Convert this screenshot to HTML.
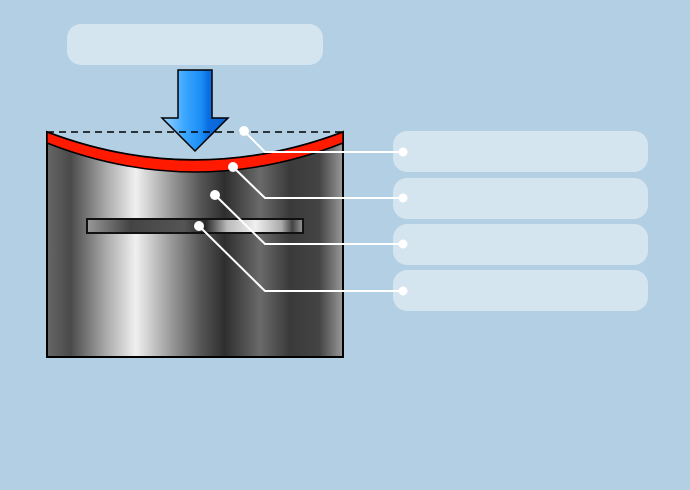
<!DOCTYPE html>
<html><head><style>
html,body{margin:0;padding:0;width:690px;height:490px;overflow:hidden;background:#b3cfe3;}
</style></head><body>
<svg width="690" height="490" viewBox="0 0 690 490" xmlns="http://www.w3.org/2000/svg">
<defs>
<linearGradient id="body" x1="47" x2="343" y1="0" y2="0" gradientUnits="userSpaceOnUse">
<stop offset="0" stop-color="#666"/>
<stop offset="0.08" stop-color="#4a4a4a"/>
<stop offset="0.2" stop-color="#aaa"/>
<stop offset="0.3" stop-color="#f0f0f0"/>
<stop offset="0.42" stop-color="#999"/>
<stop offset="0.52" stop-color="#555"/>
<stop offset="0.6" stop-color="#2e2e2e"/>
<stop offset="0.72" stop-color="#6a6a6a"/>
<stop offset="0.82" stop-color="#3a3a3a"/>
<stop offset="0.92" stop-color="#444"/>
<stop offset="1" stop-color="#999"/>
</linearGradient>
<linearGradient id="bar" x1="87" x2="303" y1="0" y2="0" gradientUnits="userSpaceOnUse">
<stop offset="0" stop-color="#999"/>
<stop offset="0.2" stop-color="#444"/>
<stop offset="0.45" stop-color="#555"/>
<stop offset="0.55" stop-color="#2a2a2a"/>
<stop offset="0.65" stop-color="#bbb"/>
<stop offset="0.78" stop-color="#f0f0f0"/>
<stop offset="0.9" stop-color="#aaa"/>
<stop offset="0.95" stop-color="#444"/>
<stop offset="1" stop-color="#999"/>
</linearGradient>
<linearGradient id="arr" x1="162" x2="228" y1="0" y2="0" gradientUnits="userSpaceOnUse">
<stop offset="0" stop-color="#9ad4ff"/>
<stop offset="0.35" stop-color="#3aa6ff"/>
<stop offset="0.6" stop-color="#1a8cf5"/>
<stop offset="0.7" stop-color="#0a6ee0"/>
<stop offset="1" stop-color="#0a60d0"/>
</linearGradient>
</defs>
<rect width="690" height="490" fill="#b3cfe3"/>
<g fill="#fff" fill-opacity="0.45">
<rect x="67" y="24" width="256" height="41" rx="14"/>
<rect x="393" y="131" width="255" height="41" rx="14"/>
<rect x="393" y="178" width="255" height="41" rx="14"/>
<rect x="393" y="224" width="255" height="41" rx="14"/>
<rect x="393" y="270" width="255" height="41" rx="14"/>
</g>
<path d="M47,132 Q195,188 343,132 L343,357 L47,357 Z" fill="url(#body)" stroke="#000" stroke-width="2"/>
<path d="M47,132 Q195,188 343,132 L343,143 Q195,201 47,143 Z" fill="#ff1a00" stroke="#000" stroke-width="1.5"/>
<rect x="87" y="219" width="216" height="14" fill="url(#bar)" stroke="#111" stroke-width="2"/>
<path d="M178,70 L212,70 L212,118 L228,118 L195,151 L162,118 L178,118 Z" fill="url(#arr)" stroke="#000" stroke-width="1.5"/>
<line x1="47" y1="132" x2="343" y2="132" stroke="#000" stroke-width="1.5" stroke-dasharray="7,5"/>
<g stroke="#fff" stroke-width="2" fill="none">
<polyline points="244,131 265,152 403,152"/>
<polyline points="233,167 265,198 403,198"/>
<polyline points="215,195 265,244 403,244"/>
<polyline points="199,226 265,291 403,291"/>
</g>
<g fill="#fff">
<circle cx="244" cy="131" r="5"/><circle cx="403" cy="152" r="4.5"/>
<circle cx="233" cy="167" r="5"/><circle cx="403" cy="198" r="4.5"/>
<circle cx="215" cy="195" r="5"/><circle cx="403" cy="244" r="4.5"/>
<circle cx="199" cy="226" r="5"/><circle cx="403" cy="291" r="4.5"/>
</g>
</svg>
</body></html>
